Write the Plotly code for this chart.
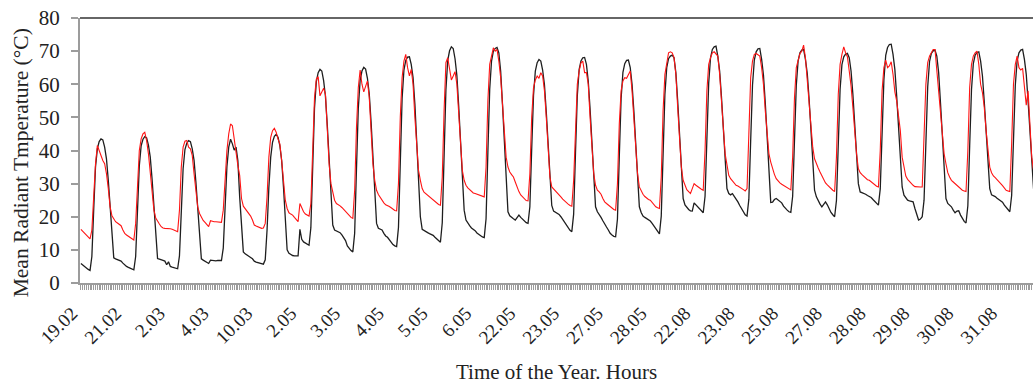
import plotly.graph_objects as go

day_labels = ["19.02", "21.02", "2.03", "4.03", "10.03", "2.05", "3.05", "4.05", "5.05", "6.05",
              "22.05", "23.05", "27.05", "28.05", "22.08", "23.08", "25.08", "27.08", "28.08",
              "29.08", "30.08", "31.08"]

# hourly mean radiant temperature, one list of 24 hours per day (black series)
black_by_day = [
    [5.9, 5.4, 4.9, 4.5, 4.1, 3.8, 8, 22, 35, 40.5, 42.7, 43.5, 43.2, 41, 37.5, 31, 22.5, 14, 7.6, 7.3, 7.1, 6.9, 6.6, 6.0],
    [5.4, 5.0, 4.7, 4.4, 4.2, 4.0, 8, 22, 35.4, 41.4, 43.4, 44.2, 43.8, 41.6, 38, 31.3, 22.9, 14, 7.4, 7.2, 6.9, 6.8, 6.6, 5.5],
    [6.4, 5.0, 4.8, 4.6, 4.5, 4.3, 8.2, 21.7, 34.5, 40.3, 42.2, 43, 42.7, 40.5, 37, 30.5, 22.3, 13.7, 7.3, 6.9, 6.5, 6.1, 5.9, 6.9],
    [6.8, 6.7, 6.7, 6.8, 6.9, 6.8, 10.5, 23, 35, 41, 43.4, 42, 40.1, 41, 37, 26, 16, 9.4, 8.8, 8.5, 8.1, 7.7, 7.3, 6.6],
    [6.3, 6.2, 6.1, 5.9, 5.7, 7, 16, 29, 38, 42.5, 44.3, 44.9, 44, 41.5, 37, 29, 18.5, 10, 9, 8.5, 8.3, 8.2, 8.2, 8.2],
    [16.2, 13.2, 12.4, 12, 11.7, 11.4, 16.7, 35.3, 52.8, 60.8, 63.5, 64.5, 64, 61.1, 56.3, 47.7, 36.7, 25.1, 17.5, 16, 15.7, 15.5, 15.2, 14.5],
    [13.8, 12.8, 11.2, 10.4, 9.8, 9.4, 15, 34.5, 52.8, 61.2, 64, 65.1, 64.6, 61.8, 57.1, 48.6, 37.8, 26.5, 18, 16.5, 16.2, 16, 15, 14.2],
    [13.8, 13, 12.2, 11.6, 11.2, 11, 16.7, 36.8, 55.7, 64.3, 67.2, 68.2, 68.3, 66, 62, 54, 43, 31, 20, 16.2, 15.8, 15.5, 15.2, 14.9],
    [14.6, 14.4, 13.8, 13.2, 12.6, 12.3, 18.2, 38.9, 58.3, 67.2, 70.1, 71.3, 70.8, 67.7, 62.7, 53.5, 41.8, 29.6, 22, 19, 18, 17.3, 16.6, 16.2],
    [15.8, 15.1, 14.6, 14.2, 13.9, 13.7, 19.4, 39.5, 58.5, 67, 70, 70.8, 71.1, 69.5, 64, 54, 42, 29, 21.5, 20.3, 19.7, 19.4, 19, 19.8],
    [20.5, 19.8, 19.2, 18.7, 18.2, 18, 23, 40.3, 56.6, 64, 66.5, 67.5, 67, 64.3, 59.8, 51.6, 41.1, 30.2, 23.4, 21.7, 21.3, 21, 20.7, 20],
    [19.2, 18.2, 17.3, 16.6, 15.9, 15.5, 20.8, 39.2, 56.5, 64.4, 67, 68, 68.1, 66, 61, 52.5, 42, 31, 23, 21.5, 20.8, 19.8, 18.8, 17.6],
    [16.9, 16, 15, 14.5, 14.1, 14, 19.3, 38, 55.6, 63.6, 66.2, 67.2, 67.3, 65, 60, 51.8, 41.6, 31, 23, 21.3, 20.2, 19.8, 19.5, 19],
    [18.7, 18, 17.2, 16.3, 15.3, 14.8, 20.2, 39.1, 57, 65, 67.7, 68.5, 68.8, 68, 63.5, 55, 44.5, 33, 25.5, 23.6, 22.7, 22.2, 21.8, 21.7],
    [24.2, 23.6, 23, 22.2, 21.6, 21.2, 26.2, 43.8, 60.4, 68, 70.5, 71.3, 71.5, 68.4, 64, 56.1, 46, 35.5, 28.5, 27, 26.6, 27, 26.2, 25.5],
    [24.5, 23.4, 22.5, 21.6, 20.6, 20.2, 25.3, 43, 59.7, 67.3, 69.8, 70.7, 70.8, 67.5, 62.8, 54.4, 43.7, 32.4, 24.3, 24.4, 25.2, 25.5, 25, 24.6],
    [24.2, 23.2, 22.5, 22, 21.5, 21.3, 26.2, 43.4, 59.7, 67.1, 69.5, 70.3, 70.5, 67.5, 63.3, 55.6, 45.9, 35.7, 28, 26, 24.8, 23.8, 23, 23.8],
    [24.5, 23.6, 22.2, 21.3, 20.6, 20, 24.9, 42.2, 58.5, 65.9, 68.3, 69.1, 69.3, 68, 64, 57, 48, 38, 30, 27.5, 27.3, 27, 26.8, 26.4],
    [26.1, 25.8, 25.2, 24.6, 24, 23.5, 28.4, 45.4, 61.4, 68.7, 71.1, 72, 72.1, 69, 64.5, 56.5, 46.5, 36, 29, 26.5, 25.8, 25, 24.8, 24.6],
    [24.5, 22.5, 20.5, 19, 19.3, 20, 25, 42.6, 59.2, 66.8, 69.3, 70.1, 70.3, 68.5, 63.5, 54.5, 43.5, 32.5, 25.5, 24, 23.5, 23, 22, 21.2],
    [21.7, 21.8, 20.5, 19.5, 18.6, 18.1, 23.3, 41.4, 58.4, 66.2, 68.8, 69.6, 69.8, 67, 62.5, 54.7, 45, 35, 28.5, 26.6, 26.4, 26.1, 25.6, 25.1],
    [24.8, 24.4, 23.5, 22.8, 22, 21.5, 26.4, 43.5, 59.7, 67.1, 69.5, 70.3, 70.5, 67.5, 63, 55, 45, 35, 28.5, 27, 26.5, 26, 25.5, 25],
]

# hourly mean radiant temperature, one list of 24 hours per day (red series)
red_by_day = [
    [16.2, 15.6, 15.0, 14.4, 13.8, 13.3, 16, 27, 36, 41.5, 40, 38.2, 37, 36, 33, 28.5, 23, 20.3, 19.2, 18.5, 18.1, 17.7, 17.3, 16],
    [15, 14.5, 14.1, 13.7, 13.3, 13, 18, 31, 40, 43.5, 45, 45.5, 43, 39, 33, 27, 22, 19.6, 18.5, 17.8, 17, 16.6, 16.5, 16.5],
    [16.5, 16.4, 16.2, 16, 15.8, 15.5, 22, 35, 41, 42.8, 43, 41, 40.5, 38.5, 33, 27, 23, 21, 19.8, 18.9, 18.3, 17.7, 17, 18.8],
    [18.6, 18.5, 18.5, 18.4, 18.5, 18.3, 22, 33, 40, 45, 48, 47.5, 43, 39.5, 35.5, 32.5, 25.5, 23.2, 22.5, 21.5, 20.8, 20.2, 19, 17.5],
    [17.2, 17, 16.8, 16.5, 16.6, 18, 26, 38, 44, 46, 46.7, 45.5, 43.5, 42, 37, 30, 25, 22.5, 21.2, 20.8, 20.5, 19.8, 19, 18.5],
    [24, 22.5, 21.5, 20.8, 20.4, 20.2, 24, 43, 56, 61.5, 62.3, 56.5, 57.5, 58.8, 57, 46, 36, 30, 27, 25, 24, 23.7, 23.3, 22.8],
    [22.2, 21.5, 20.8, 20.2, 19.8, 19.5, 28, 47, 59, 64.3, 60, 57.7, 59.5, 61, 56, 46, 36, 31, 28, 26.7, 25.8, 25, 24.2, 23.6],
    [23.4, 23.1, 22.7, 22.2, 21.9, 21.8, 30, 50, 62, 67, 69, 65, 62.5, 64.5, 60, 50, 40, 34, 31, 28.5, 27.4, 26.9, 26.5, 26],
    [25.5, 24.9, 24.4, 24, 23.7, 23.5, 32, 52, 66.5, 68, 64, 61.3, 62.5, 63.8, 60, 50, 40, 34, 31, 29.5, 28.7, 28.1, 27.6, 27.2],
    [27, 26.8, 26.7, 26.5, 26.2, 26, 35, 55, 66, 69, 71, 70, 70.5, 67, 62, 54, 45, 38, 35, 33.5, 32.7, 32, 30.5, 28.8],
    [27.6, 26.6, 26, 25.4, 24.9, 24.8, 33, 50, 59, 61.3, 62.5, 61.8, 63.5, 62.5, 58, 50, 40, 32, 29, 28.4, 28, 27.5, 26.9, 26],
    [25.3, 24.7, 24.2, 23.8, 23.4, 23.2, 31, 49, 60, 64, 66.5, 67, 63.5, 63.5, 60, 50, 40, 33, 29.5, 28, 27.5, 26.8, 25.5, 24.5],
    [24, 23.5, 23, 22.6, 22.2, 22, 30, 48, 58, 61, 62, 61.8, 63, 64, 58, 49, 39, 33, 29, 27.7, 26.8, 26.1, 25.6, 25.2],
    [25, 24.3, 23.6, 23, 22.7, 22.5, 32, 52, 63, 67, 69.5, 69.8, 69.5, 68, 63, 53, 42, 35, 31, 29.5, 28.2, 27.6, 27, 28.5],
    [30, 29.5, 29, 28.7, 28.3, 28, 40, 58, 66, 68, 69.5, 69.8, 69, 68.5, 63, 56, 47, 39, 35, 32.5, 31.5, 30.7, 30, 29.5],
    [29.3, 29, 28.6, 28.2, 27.8, 28.5, 45, 62, 67, 69, 69.3, 69, 68.5, 65, 60, 52, 44, 39, 36.5, 34.5, 32.8, 31.5, 30.8, 30.2],
    [29.8, 29.5, 29, 28.7, 28.4, 28.1, 38, 56, 65, 67, 69.3, 70, 71.8, 68, 61, 55, 47, 41, 37.5, 35.8, 34.7, 33.5, 32.3, 31],
    [30.2, 29.6, 29, 28.5, 28, 27.6, 38, 57, 66, 69, 71.3, 69.5, 68.3, 64, 59.5, 53, 45, 39, 34.5, 33.3, 32.7, 32.1, 31.6, 31.2],
    [31, 30.5, 30, 29.6, 29.2, 29, 40, 58, 65, 67.3, 65, 65.5, 66.8, 63, 57.7, 55, 51, 46, 38, 34.5, 32.3, 31.3, 30.6, 30],
    [29.5, 29.1, 29, 29, 29, 29, 42, 60, 66.5, 68.5, 69.5, 70.5, 70.5, 64, 58.2, 53, 46, 39, 36, 33.3, 32, 31, 30.5, 30],
    [29.3, 28.8, 28.3, 28, 27.8, 27.6, 40, 59, 66, 68.5, 69.5, 70, 66, 60, 57.5, 53, 46, 40, 35, 33.3, 32.3, 31.8, 31.3, 30.8],
    [30, 29.4, 28.8, 28, 27.8, 27.6, 42, 60, 66, 68.5, 65, 64.3, 64.8, 60, 53.7, 58, 46, 38, 34, 33, 32, 31.5, 31, 30.5],
]

y_ticks = [0, 10, 20, 30, 40, 50, 60, 70, 80]

black = [v for day in black_by_day for v in day]
red = [v for day in red_by_day for v in day]
hours = list(range(len(black)))
day_starts = [i * 24 for i in range(len(day_labels))]

fig = go.Figure()
fig.add_trace(go.Scatter(x=hours, y=black, mode="lines",
                         line=dict(color="#1e1e1e", width=1.3), hoverinfo="skip"))
fig.add_trace(go.Scatter(x=hours, y=red, mode="lines",
                         line=dict(color="#ff1414", width=1.1), hoverinfo="skip"))

axis_grey = "#9c9c9c"
fig.update_layout(
    width=1033, height=383,
    margin=dict(l=80, r=0, t=18, b=100),
    paper_bgcolor="white", plot_bgcolor="white",
    showlegend=False,
    font=dict(family="Liberation Serif, Times New Roman, serif", color="#222222", size=20),
    xaxis=dict(
        range=[-0.5, 521.7],
        tickmode="array", tickvals=day_starts, ticktext=day_labels,
        tickangle=-45, tickfont=dict(size=19),
        ticks="outside", ticklen=5, tickcolor=axis_grey, tickwidth=1,
        ticklabelshift=-9, ticklabelstandoff=5,
        showline=True, linecolor=axis_grey, linewidth=1.5,
        showgrid=False, zeroline=False,
        minor=dict(ticks="outside", tickmode="linear", tick0=0, dtick=1,
                   ticklen=5, tickcolor=axis_grey, tickwidth=1, showgrid=False),
    ),
    yaxis=dict(
        range=[0, 80], tickmode="array", tickvals=y_ticks,
        tickfont=dict(size=21),
        ticks="outside", ticklen=7, tickcolor=axis_grey, tickwidth=1.5,
        showline=True, linecolor=axis_grey, linewidth=2,
        showgrid=False, zeroline=False,
        ticklabelstandoff=7,
    ),
    shapes=[dict(type="line", xref="paper", yref="paper", x0=0, x1=1, y0=1, y1=1,
                 line=dict(color="#333333", width=1.5))],
    annotations=[
        dict(text="Time of the Year. Hours", xref="paper", yref="paper",
             x=0.5, y=-0.335, xanchor="center", yanchor="middle",
             showarrow=False, font=dict(size=21)),
        dict(text="Mean Radiant Tmperature (°C)", xref="paper", yref="paper",
             x=-0.061, y=0.455, xanchor="center", yanchor="middle", textangle=-90,
             showarrow=False, font=dict(size=21.5)),
    ],
)

fig.write_html("out.html", config={"displayModeBar": False})
